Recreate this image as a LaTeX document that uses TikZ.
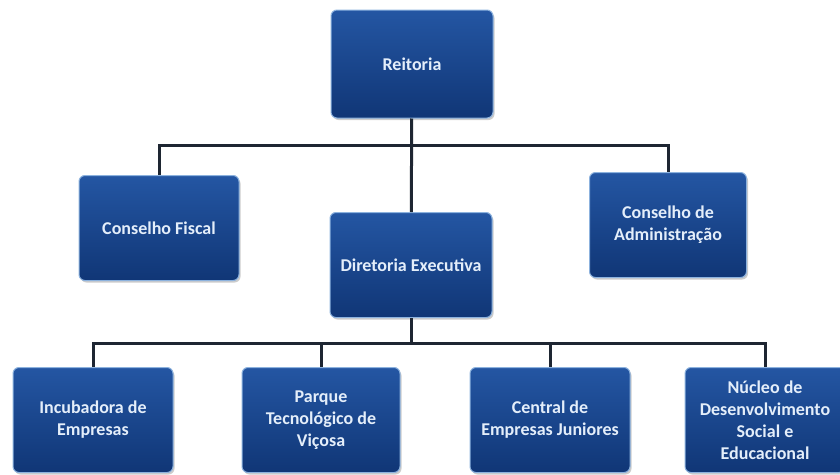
\documentclass[tikz,border=0pt]{standalone}
\usepackage{fontspec}
\setmainfont{Carlito}
\usepackage{tikz}
\usetikzlibrary{positioning,shadows}
\usepackage{xcolor}
\definecolor{orgtop}{RGB}{36,86,163}
\definecolor{orgmid}{RGB}{21,66,140}
\definecolor{orgbot}{RGB}{16,54,118}
\definecolor{orgedge}{RGB}{140,178,222}
\definecolor{orgtext}{RGB}{228,238,250}
\definecolor{orgline}{RGB}{30,38,50}
\tikzstyle{unit} = [rectangle, rounded corners=6pt, minimum width=160pt, minimum height=105pt, text centered, align=center, draw=orgedge, line width=1pt, top color=orgtop, middle color=orgmid, bottom color=orgbot, text=orgtext, font=\fontsize{18}{22}\selectfont\bfseries, drop shadow={shadow xshift=1.5pt, shadow yshift=-2pt, fill=black, opacity=0.2}]
\tikzstyle{link} = [line width=3pt, color=orgline]

\begin{document}
\begin{tikzpicture}[x=1pt, y=-1pt]
    \useasboundingbox (0,0) rectangle (840,474);

    % Top
    \node[unit, minimum width=162pt, minimum height=108pt] (reitoria) at (412, 64) {Reitoria};

    % Councils
    \node[unit] (fiscal) at (159, 228) {Conselho Fiscal};
    \node[unit, minimum width=157pt] (admin) at (668, 225) {Conselho de\\Administração};

    % Board
    \node[unit, minimum width=162pt] (diretoria) at (411, 265) {Diretoria Executiva};

    % Units
    \node[unit] (incub) at (93, 420) {Incubadora de\\Empresas};
    \node[unit, minimum width=158pt] (parque) at (321, 420) {Parque\\Tecnológico de\\Viçosa};
    \node[unit] (central) at (550, 420) {Central de\\Empresas Juniores};
    \node[unit] (nucleo) at (765, 420) {Núcleo de\\Desenvolvimento\\Social e\\Educacional};

    % Lines
    \coordinate (upper) at (411, 145);
    \coordinate (lower) at (411, 343);
    \draw[link] (reitoria) -- (diretoria);
    \draw[link] (upper) -| (fiscal);
    \draw[link] (upper) -| (admin);
    \draw[link] (diretoria) -- (lower);
    \draw[link] (lower) -| (incub);
    \draw[link] (lower) -| (parque);
    \draw[link] (lower) -| (central);
    \draw[link] (lower) -| (nucleo);
\end{tikzpicture}
\end{document}
